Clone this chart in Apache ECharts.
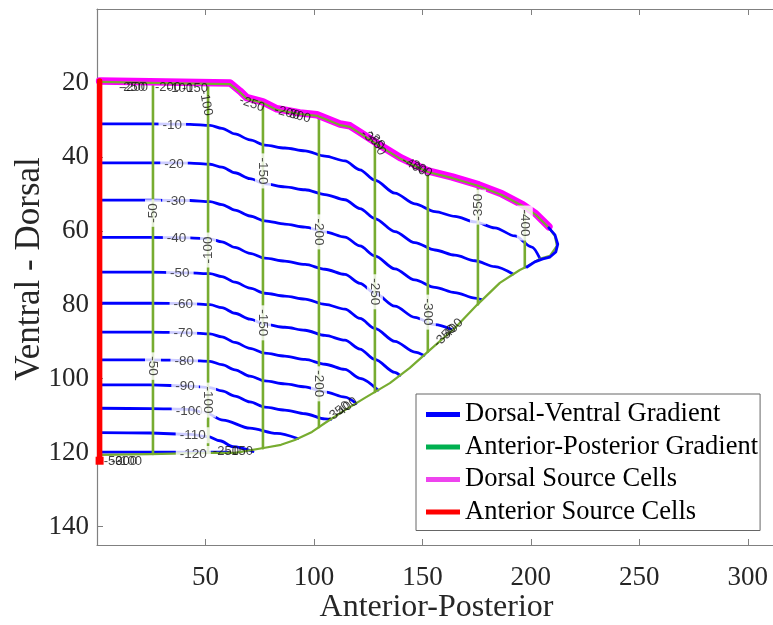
<!DOCTYPE html>
<html>
<head>
<meta charset="utf-8">
<script src="https://cdn.jsdelivr.net/npm/echarts@6/dist/echarts.min.js"></script>
<style>
  html, body { margin: 0; padding: 0; background: #fff; }
  #chart { width: 773px; height: 625px; }
</style>
</head>
<body>
<div id="chart"></div>
<script>
// Dorsal-Ventral gradient contours, [anterior-posterior, ventral-dorsal]
const dv10 = [[1.2,31.1],[24.4,31.1],[42.9,31.2],[52.1,31.5],[57.6,32.3],[63.6,33.8],[70.5,35.4],[77.4,36.8],[86.6,37.6],[95.9,38.4],[105.1,39.8],[114.3,41.1],[121.2,43.5],[128.1,46.3],[137.3,49.8],[146.5,52.7],[155.8,54.8],[165,56.1],[174.2,57.6],[183.4,59.2],[192.6,61.4],[200.5,64.4],[204.1,67.4]];
const dv20 = [[1.2,41.6],[24.4,41.6],[42.9,41.7],[52.1,42],[57.6,42.8],[63.6,44.3],[70.5,45.9],[77.4,47.3],[86.6,48.1],[95.9,48.9],[105.1,50.2],[114.3,51.6],[121.2,54],[128.1,56.7],[137.3,60.2],[146.5,63.2],[155.8,65.2],[165,66.6],[174.2,68.1],[183.4,69.7],[191.7,71.7]];
const dv30 = [[1.2,51.7],[24.4,51.7],[42.9,51.8],[52.1,52.1],[57.6,52.9],[63.6,54.4],[70.5,56],[77.4,57.3],[86.6,58.2],[95.9,59],[105.1,60.3],[114.3,61.7],[121.2,64.1],[128.1,66.8],[137.3,70.3],[146.5,73.3],[155.8,75.3],[165,76.7],[174.2,78.2],[177.2,78.6]];
const dv40 = [[1.2,61.8],[24.4,61.8],[42.9,61.9],[52.1,62.2],[57.6,63],[63.6,64.5],[70.5,66.1],[77.4,67.4],[86.6,68.2],[95.9,69.1],[105.1,70.4],[114.3,71.8],[121.2,74.2],[128.1,76.9],[137.3,80.4],[146.5,83.4],[155.8,85.4],[163.6,86.7]];
const dv50 = [[1.2,71.2],[24.4,71.2],[42.9,71.4],[52.1,71.6],[57.6,72.4],[63.6,73.9],[70.5,75.5],[77.4,76.9],[86.6,77.7],[95.9,78.5],[105.1,79.9],[114.3,81.2],[121.2,83.7],[128.1,86.4],[137.3,89.9],[146.5,92.8],[150.7,93.7]];
const dv60 = [[1.2,79.6],[24.4,79.6],[42.9,79.7],[52.1,80],[57.6,80.8],[63.6,82.3],[70.5,83.9],[77.4,85.3],[86.6,86.1],[95.9,86.9],[105.1,88.3],[114.3,89.6],[121.2,92],[128.1,94.8],[137.3,98.3],[139.6,99.1]];
const dv70 = [[1.2,87.4],[24.4,87.4],[42.9,87.6],[52.1,87.9],[57.6,88.7],[63.6,90.2],[70.5,91.8],[77.4,93.1],[86.6,93.9],[95.9,94.8],[105.1,96.1],[114.3,97.5],[121.2,99.9],[129.5,103.1]];
const dv80 = [[1.2,94.9],[24.4,94.9],[42.9,95.1],[52.1,95.3],[57.6,96.2],[63.6,97.6],[70.5,99.3],[77.4,100.6],[86.6,101.4],[95.9,102.2],[105.1,103.6],[114.3,105],[119.4,106.7]];
const dv90 = [[1.2,101.7],[24.4,101.7],[42.9,102],[52.1,102.4],[57.6,103.3],[63.6,104.7],[70.5,106.3],[77.4,107.7],[86.6,108.5],[95.9,109.5],[105.1,110.9],[107.8,111]];
const dv100 = [[1.2,108],[24.4,108.1],[42.9,108.3],[49.8,109.2],[58.1,111.2],[70.5,113.4],[82.9,114.8],[92.5,116.2]];
const dv110 = [[1.2,114.6],[24.4,114.7],[42.9,115.1],[51.2,115.7],[56.7,116.8],[62.7,118.4],[71.9,119.7]];
const dv120 = [[1.2,119.9],[30,119.9],[60,119.9]];
const dvTip = [[208.3,59.2],[211.1,61.1],[212.4,63.6],[211.5,65.7],[208.8,67.1],[205.5,67.6],[201.8,68.4],[198.2,69.8]];
const dvLevels = [-10, -20, -30, -40, -50, -60, -70, -80, -90, -100, -110, -120];
const dvLabelX = [34.7, 35.5, 36.4, 36.7, 38.2, 39.8, 39.8, 40.2, 40.6, 42.5, 44.1, 44.4];
const dvLabelY = [31.4, 41.9, 52.0, 62.1, 71.6, 79.9, 87.8, 95.3, 102.1, 108.8, 115.3, 120.4];

// Anterior-Posterior gradient contours (vertical)
const apLevels = [-50, -100, -150, -200, -250, -300, -350, -400];
const apX = [25.8, 51.2, 76.5, 102.3, 128.1, 152.5, 175.6, 197.2];
const apTop = [20.0, 20.2, 25.4, 29.2, 36.2, 44.1, 47.8, 53.7];
const apBottom = [120.4, 120.1, 118.8, 113.1, 103.6, 92.7, 79.9, 69.9];
const apLabelText = ['-50', '-50', '-100', '-100', '-150', '-150', '-200', '-200', '-250', '-300', '-350', '-400'];
const apLabelX = [25.8, 25.8, 51.2, 51.2, 76.5, 76.5, 102.3, 102.3, 128.1, 152.5, 175.6, 197.2];
const apLabelY = [55.2, 96.6, 65.2, 105.8, 43.8, 84.9, 60.3, 101.4, 76.5, 82.0, 53.6, 57.9];
const apLabelRot = [90, -90, 90, -90, -90, -90, -90, -90, -90, -90, 90, -90];

// tissue outline
const tissueEdge = [[1.2,19.7],[24.4,20],[61.3,20.3],[65.9,22.5],[69.1,24.3],[76.5,25.4],[82.9,27.3],[93.5,28.4],[101.4,28.9],[112,31.4],[116.6,31.9],[121.7,33.8],[130.9,37.3],[140.1,40.6],[152.5,44.1],[163.6,45.7],[176,47.9],[186.6,50.3],[196.3,53.3],[202.3,55.7],[208.3,59.2],[211.1,61.4],[212,64.1],[208.8,66.8],[204.1,67.6],[198.6,69.5],[194.9,70.6],[185.7,74.1],[175.1,80.1],[165,86.3],[153.5,92.2],[144.2,97.1],[135,101.2],[123.5,105.2],[114.3,108.5],[105.1,112],[99.1,114.4],[91.2,116.6],[84.8,117.9],[77.4,118.7],[63.6,120.1],[51.2,120.1],[24.4,120.4],[1.2,120.6]];
const dorsalSource = [[1.2,19.5],[24.4,19.7],[61.3,20.0],[65.9,22.2],[69.1,24.0],[76.5,25.1],[82.9,27.0],[93.5,28.1],[101.4,28.6],[112,31.1],[116.6,31.6],[121.7,33.5],[130.9,37.0],[140.1,40.3],[152.5,43.8],[163.6,45.4],[176,47.6],[186.6,50.0],[196.3,53.0],[202.3,55.4],[208.3,58.9]];
const anteriorSource = [[1.2,19.5],[1.2,122.2]];

// overlapping contour labels sitting on the tissue edge
const edgeLabelText = ['-250','-200','-200','-100','-150','-100','-250','-200','-300','-250','-350','-400','-300','-50','-300','-100','-250','-150','-350','-400','-350','-400'];
const edgeLabelX = [16.1,17.5,32.7,38.2,45.2,50.2,71.4,87.6,92.6,129,127.2,146.1,148.8,7.4,12.4,14.7,59.4,65.9,111.1,114.7,160.4,163.6];
const edgeLabelY = [21.1,21.1,21.1,21.4,21.4,25.4,25.7,28.1,28.9,36.2,35.4,42.5,43,122.5,122.5,122.3,119.8,119.8,109,107.9,88.5,86.8];
const edgeLabelRot = [0,0,0,0,0,-80,-20,-15,-15,-65,-35,-30,-30,0,0,0,0,0,37,37,45,45];

const dvLines = [dv10, dv20, dv30, dv40, dv50, dv60, dv70, dv80, dv90, dv100, dv110, dv120];

const serif = 'Liberation Serif';
const sans = 'Liberation Sans';
const NAME_DV = 'Dorsal-Ventral Gradient';
const NAME_AP = 'Anterior-Posterior Gradient';
const NAME_DS = 'Dorsal Source Cells';
const NAME_AS = 'Anterior Source Cells';

function lineSeries(name, data, color, legendColor, width, z, smooth) {
  return {
    type: 'line',
    name: name,
    data: data,
    z: z,
    smooth: smooth ? 0.3 : false,
    smoothMonotone: smooth ? 'x' : undefined,
    showSymbol: false,
    symbol: 'none',
    silent: true,
    lineStyle: { color: color, width: width, cap: 'round', join: 'round' },
    itemStyle: { color: legendColor },
  };
}

function labelSeries(items, bg, color, size) {
  return {
    type: 'scatter',
    z: 20,
    silent: true,
    symbolSize: 1,
    itemStyle: { color: 'rgba(0,0,0,0)' },
    data: items.map(d => ({ value: [d[0], d[1]], label: { formatter: d[2], rotate: d[3] } })),
    label: {
      show: true,
      position: 'inside',
      fontFamily: sans,
      fontSize: size,
      color: color,
      backgroundColor: bg || 'transparent',
      padding: bg ? [1, 4] : 0,
    },
  };
}

const series = [];

dvLines.forEach(l => series.push(lineSeries(NAME_DV, l, '#0000ff', '#0000ff', 2.8, 2, true)));

apX.forEach((x, i) => {
  series.push(lineSeries(NAME_AP, [[x, apTop[i]], [x, apBottom[i]]], '#77ac30', '#00b050', 2.6, 3, false));
});

series.push(lineSeries(NAME_DS, dorsalSource, '#ff00ff', '#ee44ee', 7.5, 4, false));
series.push(lineSeries(NAME_AP, tissueEdge, '#77ac30', '#00b050', 2.2, 5, false));
series.push(lineSeries(NAME_DV, dvTip, '#0000ff', '#0000ff', 2.8, 6, false));

const redLine = lineSeries(NAME_AS, anteriorSource.map((p, i) => ({ value: p, symbol: i === anteriorSource.length - 1 ? 'rect' : 'none' })), '#ff0000', '#ff0000', 5.5, 7, false);
redLine.showSymbol = true;
redLine.symbol = 'rect';
redLine.symbolSize = 8;
series.push(redLine);

series.push(labelSeries(dvLevels.map((v, i) => [dvLabelX[i], dvLabelY[i], String(v), 0]), '#fff', '#1a1a1a', 13.5));
series.push(labelSeries(apLabelText.map((t, i) => [apLabelX[i], apLabelY[i], t, apLabelRot[i]]), '#fff', '#1a1a1a', 13.5));
series.push(labelSeries(edgeLabelText.map((t, i) => [edgeLabelX[i], edgeLabelY[i], t, edgeLabelRot[i]]), null, '#111', 13));

const axisGray = '#808080';
const chart = echarts.init(document.getElementById('chart'));
chart.setOption({
  animation: false,
  backgroundColor: '#fff',
  grid: { left: 97, top: 9, right: -3, bottom: 80, containLabel: false, outerBoundsMode: 'none' },
  legend: {
    orient: 'vertical',
    left: 416,
    top: 394,
    padding: [7, 2, 5, 10],
    itemGap: 5.5,
    itemWidth: 34,
    itemHeight: 5,
    icon: 'rect',
    selectedMode: false,
    backgroundColor: '#fff',
    borderColor: '#666',
    borderWidth: 1,
    borderRadius: 0,
    textStyle: { fontFamily: serif, fontSize: 26.5, color: '#000' },
    data: [NAME_DV, NAME_AP, NAME_DS, NAME_AS],
  },
  xAxis: [
    {
      type: 'value',
      min: 0,
      max: 313,
      interval: 50,
      position: 'bottom',
      name: 'Anterior-Posterior',
      nameLocation: 'middle',
      nameGap: 47,
      nameMoveOverlap: false,
      nameTextStyle: { fontFamily: serif, fontSize: 32, color: '#262626' },
      axisLine: { show: true, onZero: false, lineStyle: { color: axisGray, width: 1.2 } },
      axisTick: { show: true, inside: true, length: 6, lineStyle: { color: axisGray } },
      axisLabel: { showMinLabel: false, showMaxLabel: false, margin: 19, fontFamily: serif, fontSize: 27, color: '#262626' },
      splitLine: { show: false },
    },
    {
      type: 'value',
      min: 0,
      max: 313,
      interval: 50,
      position: 'top',
      axisLine: { show: true, onZero: false, lineStyle: { color: axisGray, width: 1.2 } },
      axisTick: { show: true, inside: true, length: 6, lineStyle: { color: axisGray } },
      axisLabel: { show: false },
      splitLine: { show: false },
    },
  ],
  yAxis: {
    type: 'value',
    inverse: true,
    min: 0,
    max: 145,
    interval: 20,
    name: 'Ventral - Dorsal',
    nameLocation: 'middle',
    nameRotate: 90,
    nameGap: 50,
    nameMoveOverlap: false,
    nameTextStyle: { fontFamily: serif, fontSize: 35, color: '#262626', padding: [0, 0, 0, 16] },
    axisLine: { show: true, onZero: false, lineStyle: { color: axisGray, width: 1.2 } },
    axisTick: { show: true, inside: true, length: 6, lineStyle: { color: axisGray } },
    axisLabel: { showMinLabel: false, showMaxLabel: false, margin: 8, fontFamily: serif, fontSize: 27, color: '#262626' },
    splitLine: { show: false },
  },
  series: series,
});
</script>
</body>
</html>
